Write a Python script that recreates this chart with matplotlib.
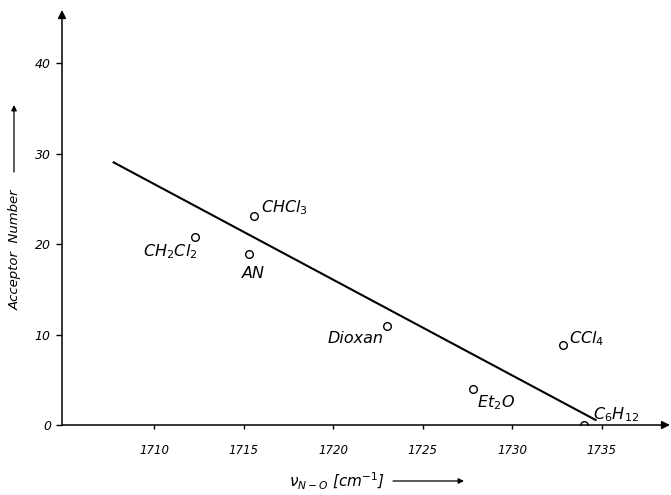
import matplotlib
matplotlib.use("Agg")
import matplotlib.pyplot as plt

# solvent data: wavenumber (cm-1) vs acceptor number
solvents = ["CH$_2$Cl$_2$", "AN", "CHCl$_3$", "Dioxan", "Et$_2$O", "CCl$_4$", "C$_6$H$_{12}$"]
nu_no = [1712.3, 1715.3, 1715.6, 1723.0, 1727.8, 1732.85, 1734.0]
acceptor = [20.8, 18.9, 23.1, 11.0, 4.0, 8.9, 0.0]
# label offsets in pixels and alignment
offsets = [(3, -15), (4, -19), (7, 8), (-3, -13), (4, -14), (6, 6), (9, 10)]
aligns = ["right", "center", "left", "right", "left", "left", "left"]

# regression line end points
fit_x = [1707.7, 1734.7]
fit_y = [29.1, 0.5]

xticks = [1710, 1715, 1720, 1725, 1730, 1735]
yticks = [0, 10, 20, 30, 40]

plt.rcParams["font.family"] = "DejaVu Sans"
plt.rcParams["mathtext.fontset"] = "dejavusans"
plt.rcParams["mathtext.default"] = "it"

fig = plt.figure(figsize=(6.71, 4.95), dpi=100)
ax = fig.add_axes([62 / 671, 70 / 495, 608 / 671, 415 / 495])
ax.set_xlim(1704.87, 1738.8)
ax.set_ylim(0, 45.9)

for s in ax.spines.values():
    s.set_visible(False)

# axes drawn as arrows
ax.annotate("", xy=(1, 0), xytext=(0, 0), xycoords="axes fraction",
            arrowprops=dict(arrowstyle="-|>", lw=1.1, color="black",
                            shrinkA=0, shrinkB=0, mutation_scale=12))
ax.annotate("", xy=(0, 1), xytext=(0, 0), xycoords="axes fraction",
            arrowprops=dict(arrowstyle="-|>", lw=1.1, color="black",
                            shrinkA=0, shrinkB=0, mutation_scale=12))

ax.plot(fit_x, fit_y, color="black", lw=1.5, solid_capstyle="butt")
ax.plot(nu_no, acceptor, "o", ms=5.5, mfc="white", mec="black", mew=1.0)

for name, x, y, off, ha in zip(solvents, nu_no, acceptor, offsets, aligns):
    ax.annotate(name, (x, y), xytext=off, textcoords="offset pixels",
                ha=ha, va="center", fontsize=11.5, style="italic")

ax.set_xticks(xticks)
ax.set_yticks(yticks)
ax.tick_params(axis="x", direction="out", length=3, width=1, pad=11, labelsize=8.5)
ax.tick_params(axis="y", direction="out", length=4, width=1, pad=4, labelsize=9)
for lab in ax.get_xticklabels() + ax.get_yticklabels():
    lab.set_style("italic")

# axis titles with arrows (figure pixel coordinates)
fig.text(15 / 671, 245 / 495, "Acceptor  Number", rotation=90, ha="center",
         va="center", fontsize=9.5, style="italic")
ax.annotate("", xy=(14, 390), xytext=(14, 323), xycoords="figure pixels",
            arrowprops=dict(arrowstyle="-|>", lw=0.9, color="black",
                            shrinkA=0, shrinkB=0, mutation_scale=8))
fig.text(337 / 671, 14 / 495, r"$\nu_{N-O}$ [cm$^{-1}$]", ha="center",
         va="center", fontsize=11, style="italic")
ax.annotate("", xy=(464, 14), xytext=(393, 14), xycoords="figure pixels",
            arrowprops=dict(arrowstyle="-|>", lw=0.9, color="black",
                            shrinkA=0, shrinkB=0, mutation_scale=8))

fig.savefig("out.png", dpi=100)
